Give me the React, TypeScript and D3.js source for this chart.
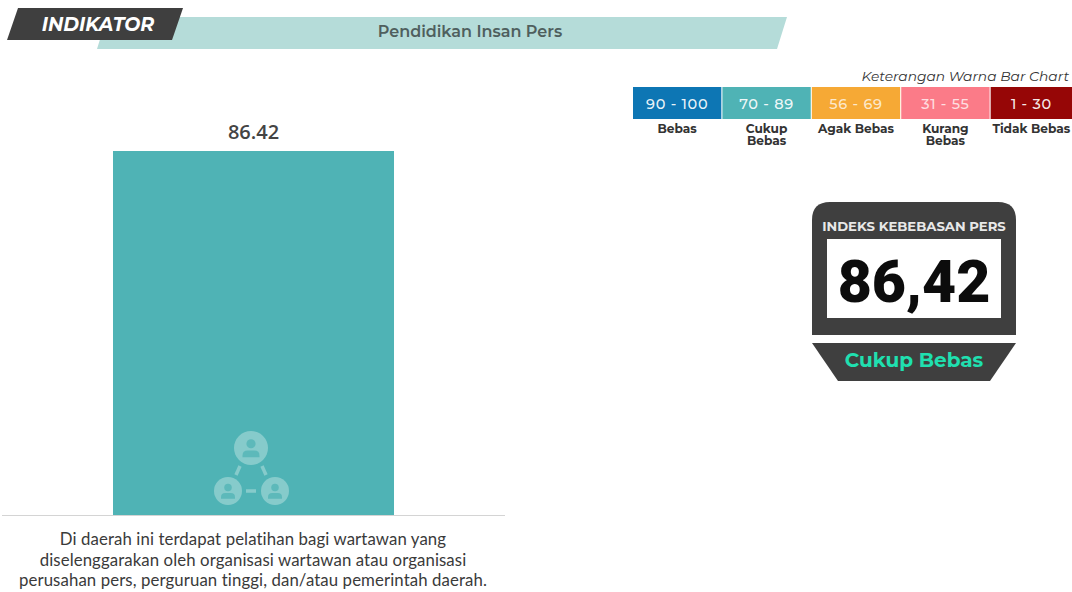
import React from "react";
import * as d3 from "d3";

const categories = ["Pendidikan Insan Pers"];
const values = [86.42];
const legendRanges = ["90 - 100", "70 - 89", "56 - 69", "31 - 55", "1 - 30"];
const legendLabels = [["Bebas"], ["Cukup", "Bebas"], ["Agak Bebas"], ["Kurang", "Bebas"], ["Tidak Bebas"]];
const legendColors = ["#0d76b4", "#4fb3b5", "#f6a935", "#fb7b88", "#960606"];
const note = [
  "Di daerah ini terdapat pelatihan bagi wartawan yang",
  "diselenggarakan oleh organisasi wartawan atau organisasi",
  "perusahan pers, perguruan tinggi, dan/atau pemerintah daerah.",
];

const W = 1072;
const H = 592;
const x = d3.scaleBand().domain(categories).range([2, 505]).paddingInner(0).paddingOuter(0.395);
const y = d3.scaleLinear().domain([0, 86.42]).range([515, 151]);
const legendX = d3.scaleBand().domain(legendRanges).range([633, 1079]).paddingInner(0.012).paddingOuter(0);
const sans = "Montserrat, 'Open Sans', 'DejaVu Sans', sans-serif";

function Person({ cx, cy, r }: { cx: number; cy: number; r: number }) {
  return (
    <g>
      <circle cx={cx} cy={cy} r={r} fill="#86cbcb" />
      <circle cx={cx} cy={cy - r * 0.25} r={r * 0.27} fill="#5db9ba" />
      <path
        d={`M${cx - r * 0.5},${cy + r * 0.55} v${-r * 0.1} q0,${-r * 0.3} ${r * 0.3},${-r * 0.3} h${r * 0.4} q${r * 0.3},0 ${r * 0.3},${r * 0.3} v${r * 0.1} z`}
        fill="#5db9ba"
      />
    </g>
  );
}

export default function App() {
  const bx = x(categories[0]) as number;
  const bw = x.bandwidth();
  const v = values[0];
  return (
    <svg
      width={W}
      height={H}
      viewBox={`0 0 ${W} ${H}`}
      style={{ position: "fixed", left: 0, top: 0, display: "block", background: "#fff" }}
    >
      {/* header */}
      <polygon points="107,17 787,17 777,49 97,49" fill="#b5dcd9" />
      <polygon points="18,8 183,8 172,40 7,40" fill="#3f3f3f" />
      <text x={98} y={31} textAnchor="middle" fontFamily={sans} fontWeight={700} fontStyle="italic" fontSize={19} fill="#fff">
        INDIKATOR
      </text>
      <text x={470} y={37} textAnchor="middle" fontFamily={sans} fontWeight={600} fontSize={16} fill="#4f5f5e">
        {categories[0]}
      </text>

      {/* bar */}
      <rect x={bx} y={y(v)} width={bw} height={y(0) - y(v)} fill="#4fb3b5" />
      <line x1={2} x2={505} y1={515.5} y2={515.5} stroke="#d4d4d4" />
      <text x={bx + bw / 2} y={139} textAnchor="middle" fontFamily="'Open Sans', sans-serif" fontWeight={600} fontSize={20} fill="#444">
        {v.toFixed(2)}
      </text>
      <g stroke="#86cbcb" strokeWidth={3.5}>
        <line x1={240} y1={466} x2={236} y2={475} />
        <line x1={262} y1={466} x2={266} y2={475} />
        <line x1={246} y1={491} x2={256} y2={491} />
      </g>
      <Person cx={251} cy={448} r={17} />
      <Person cx={228} cy={491} r={14} />
      <Person cx={275} cy={491} r={14} />

      {/* note */}
      {note.map((t, i) => (
        <text key={i} x={253} y={545 + i * 20.5} textAnchor="middle" fontFamily="Lato, sans-serif" fontSize={16.8} letterSpacing={0.1} fill="#3a3a3a">
          {t}
        </text>
      ))}

      {/* legend */}
      <text x={1069} y={81} textAnchor="end" fontFamily={sans} fontStyle="italic" fontSize={13.8} fill="#333">
        Keterangan Warna Bar Chart
      </text>
      {legendRanges.map((r, i) => {
        const lx = legendX(r) as number;
        const lw = legendX.bandwidth();
        const cx = (lx + Math.min(lx + lw, W)) / 2;
        return (
          <g key={r}>
            <rect x={lx} y={87} width={lw} height={32} fill={legendColors[i]} />
            <text x={cx} y={109} textAnchor="middle" fontFamily={sans} fontWeight={500} fontSize={14.5} letterSpacing={0.7} fill="#fff" fillOpacity={i === 2 || i === 3 ? 0.75 : 0.92}>
              {r}
            </text>
            {legendLabels[i].map((l, j) => (
              <text key={l} x={cx} y={133 + j * 11.5} textAnchor="middle" fontFamily={sans} fontWeight={700} fontSize={12.2} fill="#333">
                {l}
              </text>
            ))}
          </g>
        );
      })}

      {/* score card */}
      <path d="M812,335 V220 Q812,202 830,202 H998 Q1016,202 1016,220 V335 Z" fill="#3f3f3f" />
      <rect x={827} y={239} width={174} height={79} fill="#fff" />
      <text x={914} y={231} textAnchor="middle" fontFamily={sans} fontWeight={700} fontSize={13.2} fill="#e8e8e8">
        INDEKS KEBEBASAN PERS
      </text>
      <text x={914} y={302} textAnchor="middle" fontFamily="Roboto, sans-serif" fontWeight={900} fontSize={59} fill="#0c0c0c">
        {v.toFixed(2).replace(".", ",")}
      </text>
      <polygon points="812,343 1016,343 990,381 838,381" fill="#3f3f3f" />
      <text x={914} y={367} textAnchor="middle" fontFamily={sans} fontWeight={700} fontSize={20} fill="#1fe0b0">
        Cukup Bebas
      </text>
    </svg>
  );
}
